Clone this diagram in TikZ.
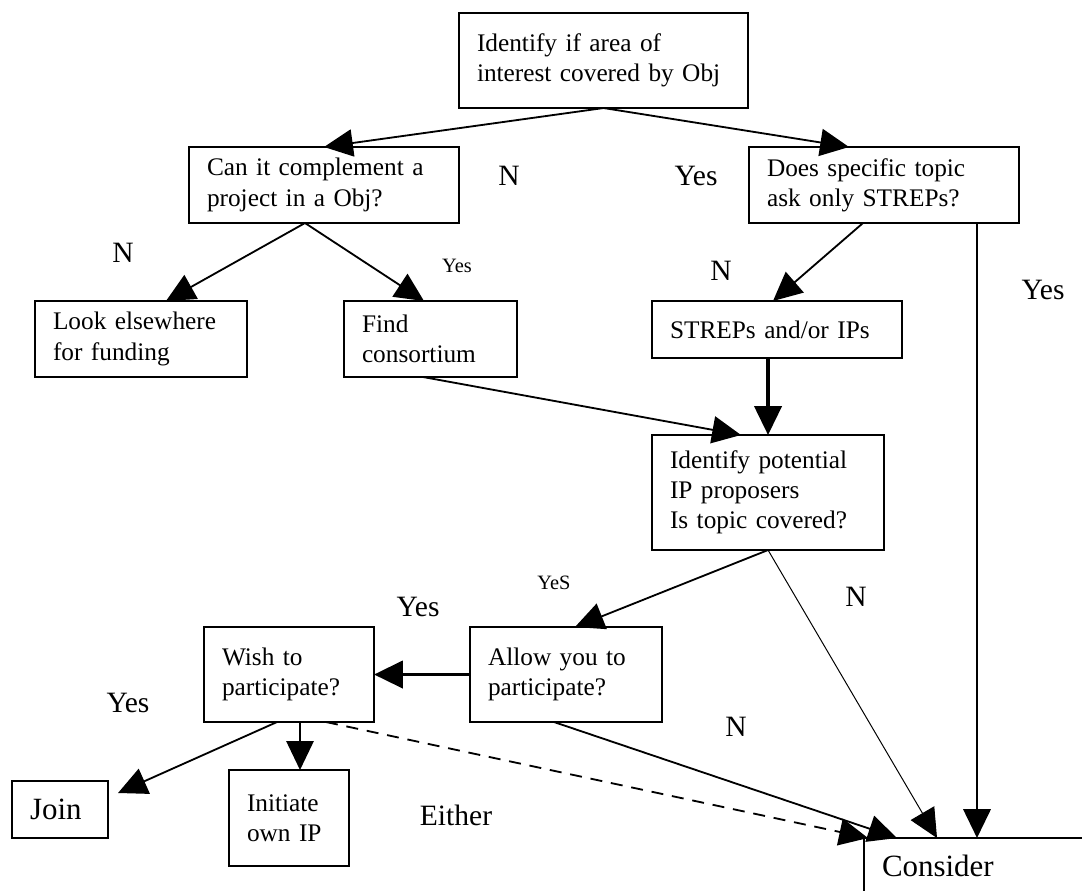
\documentclass[tikz,border=0pt]{standalone}
\usepackage{fontspec}
\setmainfont{Liberation Serif}
\usetikzlibrary{arrows.meta,calc}
\tikzset{
  box/.style={draw, line width=1.5pt, align=left, anchor=north west, inner xsep=0.45cm, inner ysep=0pt, outer sep=0pt, font=\fontsize{18}{21.5}\selectfont},
  bigbox/.style={box, font=\fontsize{22}{25}\selectfont},
  flow/.style={line width=1.3pt, -{Triangle[length=0.72cm,width=0.68cm]}},
  lab/.style={inner sep=0pt, font=\fontsize{21}{24}\selectfont},
  smalllab/.style={inner sep=0pt, font=\fontsize{14.5}{16}\selectfont}
}
\hyphenpenalty=10000
\exhyphenpenalty=10000
\begin{document}
\begin{tikzpicture}[x=0.025cm, y=-0.025cm]
   \useasboundingbox (0,0) rectangle (1082,891);
   \clip (0,0) rectangle (1082,891);
   \node[box, text width=6.325cm, minimum height=2.375cm] (top) at (459,13) {Identify if area of\\interest covered by Obj};
   \node[box, text width=5.85cm, minimum height=1.9cm] (comp) at (189,147) {Can it complement a\\project in a Obj?};
   \node[box, text width=5.85cm, minimum height=1.9cm] (spec) at (749,147) {Does specific topic\\ask only STREPs?};
   \node[box, text width=4.4cm, minimum height=1.9cm] (look) at (35,301) {Look elsewhere\\for funding};
   \node[box, text width=3.425cm, minimum height=1.9cm] (find) at (344,301) {Find\\consortium};
   \node[box, text width=5.35cm, minimum height=1.425cm] (strep) at (652,301) {STREPs and/or IPs};
   \node[box, text width=4.9cm, minimum height=2.875cm] (ident) at (652,435) {Identify potential\\IP proposers\\Is topic covered?};
   \node[box, text width=3.35cm, minimum height=2.375cm] (wish) at (204,627) {Wish to\\participate?};
   \node[box, text width=3.9cm, minimum height=2.375cm] (allow) at (470,627) {Allow you to\\participate?};
   \node[bigbox, text width=1.5cm, minimum height=1.425cm] (join) at (12,781) {Join};
   \node[box, text width=2.1cm, minimum height=2.4cm] (init) at (229,770) {Initiate\\own IP};
   \node[bigbox, text width=6.6cm, minimum height=1.4cm] (cons) at (864,838) {Consider};
   \draw[flow] (top.south) -- (comp.north);
   \draw[flow] (top.south) -- ($(spec.north west)+(100,0)$);
   \draw[flow] ($(comp.south west)+(116,0)$) -- ($(look.north west)+(131,0)$);
   \draw[flow] ($(comp.south west)+(116,0)$) -- ($(find.north west)+(80,0)$);
   \draw[flow] ($(spec.south west)+(114,0)$) -- ($(strep.north west)+(121,0)$);
   \draw[flow, line width=2pt] ($(spec.south west)+(228,0)$) -- ($(cons.north west)+(113,0)$);
   \draw[flow, line width=2.2pt] (ident.north |- strep.south) -- (ident.north);
   \draw[flow] ($(find.south west)+(79,0)$) -- ($(ident.north west)+(89,0)$);
   \draw[flow] (ident.south) -- ($(allow.north west)+(105,0)$);
   \draw[flow, line width=0.7pt] (ident.south) -- ($(cons.north west)+(73,0)$);
   \draw[flow, line width=2.4pt] (allow.west) -- (wish.east);
   \draw[flow] ($(allow.south west)+(84,0)$) -- ($(cons.north west)+(33,0)$);
   \draw[flow] ($(wish.south west)+(73,0)$) -- ($(join.north east)+(10,12)$);
   \draw[flow] ($(wish.south west)+(96,0)$) -- ($(init.north west)+(71,0)$);
   \draw[flow, dash pattern=on 0.3cm off 0.22cm] ($(wish.south west)+(122,0)$) -- ($(cons.north west)+(4,0)$);
   \node[lab] (noobj) at (509,176) {N};
   \node[lab] (yesobj) at (696,176) {Yes};
   \node[lab] (nocomp) at (123,253) {N};
   \node[smalllab] (yescomp) at (457,266) {Yes};
   \node[lab] (nospec) at (721,271) {N};
   \node[lab] (yesspec) at (1043,290) {Yes};
   \node[smalllab] (yescov) at (554,583) {YeS};
   \node[lab] (yesallow) at (418,607) {Yes};
   \node[lab] (nocov) at (856,597) {N};
   \node[lab] (yeswish) at (128,703) {Yes};
   \node[lab] (noallow) at (736,727) {N};
   \node[lab] (either) at (456,815) {Either};
\end{tikzpicture}
\end{document}
